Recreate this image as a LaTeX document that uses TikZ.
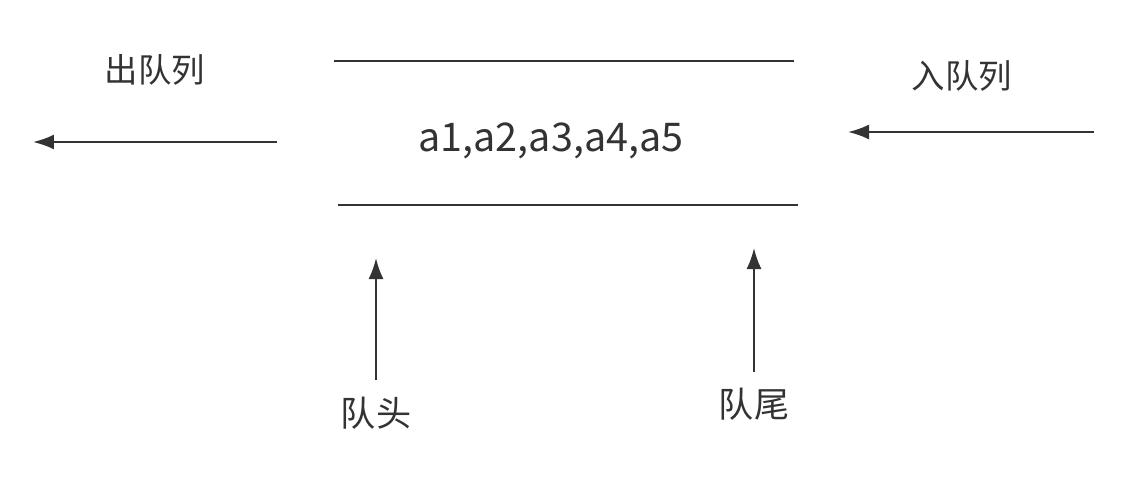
\documentclass[tikz,border=0pt]{standalone}
\usepackage{fontspec}
\setmainfont{Noto Sans CJK SC}
\usetikzlibrary{arrows.meta}
\definecolor{linegray}{HTML}{333333}

\begin{document}
\begin{tikzpicture}[x=0.02cm,y=-0.02cm,
    qline/.style={draw=linegray, line width=1.2pt},
    qarrow/.style={qline, -{Latex[length=0.42cm,width=0.3cm]}},
    qlabel/.style={text=linegray, font=\fontsize{19}{22}\selectfont},
    qitems/.style={text=linegray, font=\fontsize{22.5}{26}\selectfont}]
    \useasboundingbox (0,0) rectangle (1131,480);
    \coordinate (topL) at (334,61); \coordinate (topR) at (794,61); % upper edge
    \coordinate (botL) at (338,205); \coordinate (botR) at (798,205); % lower edge
    \draw[qline] (topL) -- (topR);
    \draw[qline] (botL) -- (botR);
    \node[qitems] (items) at (551,141) {a1,a2,a3,a4,a5};
    % dequeue side
    \coordinate (outS) at (277,142); \coordinate (outE) at (33,142);
    \draw[qarrow] (outS) -- (outE);
    \node[qlabel] (outlbl) at (155,70) {出队列};
    % enqueue side
    \coordinate (inS) at (1094,132); \coordinate (inE) at (848,132);
    \draw[qarrow] (inS) -- (inE);
    \node[qlabel] (inlbl) at (962,76) {入队列};
    % head and tail pointers
    \node[qlabel, font=\fontsize{20}{24}\selectfont] (head) at (376,413) {队头};
    \node[qlabel, font=\fontsize{20}{24}\selectfont] (tail) at (754,404) {队尾};
    \coordinate (headE) at (376,258); \coordinate (tailE) at (754,248);
    \draw[qarrow] (head.north |- 0,380) -- (headE);
    \draw[qarrow] (tail.north |- 0,372) -- (tailE);
\end{tikzpicture}
\end{document}
